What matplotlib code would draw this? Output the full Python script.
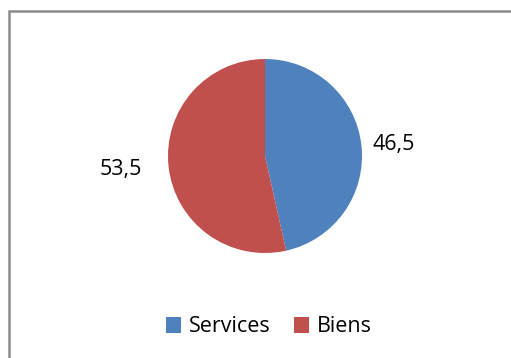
import numpy as np
import matplotlib.pyplot as plt
from matplotlib.patches import Rectangle

# donnees
categories = ["Services", "Biens"]
valeurs = [46.5, 53.5]
couleurs = ["#4F81BD", "#C0504D"]

plt.rcParams["font.family"] = ["Open Sans", "DejaVu Sans"]

fig = plt.figure(figsize=(5.11, 3.58), dpi=100)

# cadre gris autour du graphique
fig.patches.append(Rectangle((9 / 511, -0.05), 1.1, 1 - 11 / 358 + 0.05,
                             transform=fig.transFigure, fill=False,
                             edgecolor="#8c8c8c", linewidth=1.8))

ax = fig.add_axes([(265 - 97) / 511, 1 - (156 + 97) / 358, 194 / 511, 194 / 358])
wedges, textes = ax.pie(valeurs, colors=couleurs, startangle=90, counterclock=False,
                        labels=[f"{v:.1f}".replace(".", ",") for v in valeurs],
                        labeldistance=1.14,
                        textprops=dict(fontsize=15.5, color="black"))
# ajustement de la distance des etiquettes
distances = [1.12, 1.28]
for w, t, d in zip(wedges, textes, distances):
    ang = np.deg2rad((w.theta1 + w.theta2) / 2)
    t.set_position((d * np.cos(ang), d * np.sin(ang)))
    t.set_va("center")
ax.set_xlim(-1, 1)
ax.set_ylim(-1, 1)
ax.set_aspect("equal")

leg = fig.legend(wedges, categories, loc="center", bbox_to_anchor=(269 / 511, 1 - 327 / 358),
                 ncol=2, frameon=False, fontsize=15.5, handlelength=0.7, handleheight=0.7,
                 handletextpad=0.35, columnspacing=1.1)

fig.savefig("out.png", dpi=100)
